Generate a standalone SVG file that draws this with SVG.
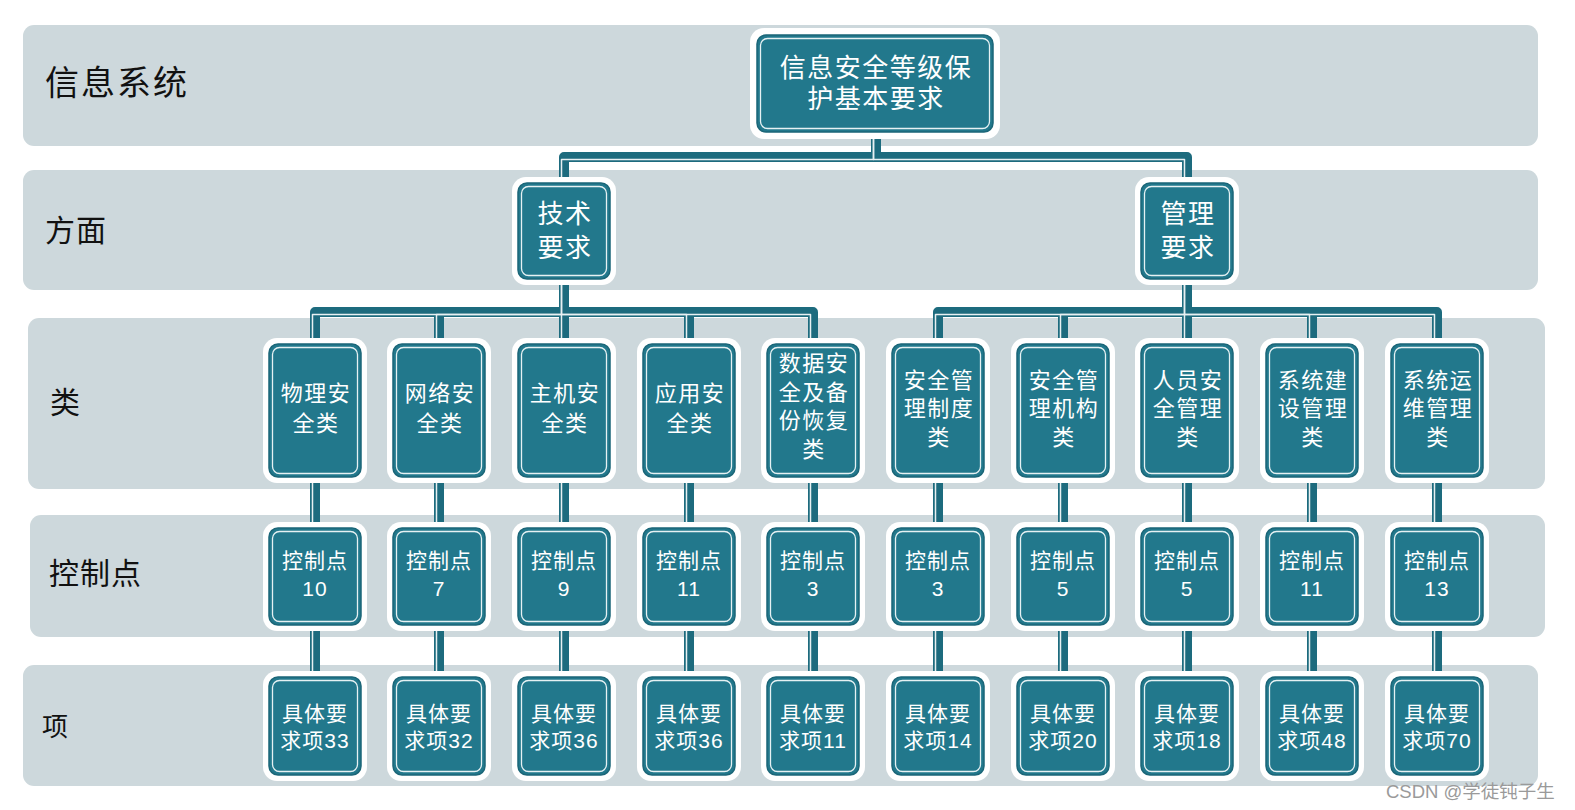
<svg xmlns="http://www.w3.org/2000/svg" width="1575" height="810" viewBox="0 0 1575 810">
<defs>
<style>
.band{fill:#CDD8DC}
.lbl{font-family:"Noto Sans CJK SC","Noto Sans",sans-serif;fill:#111}
.halo{fill:#fff}
.box{fill:#22788C;stroke:#1B6678;stroke-width:1.5}
.inner{fill:none;stroke:#E6F1F3;stroke-width:1.3}
.t{font-family:"Liberation Sans","Noto Sans CJK SC",sans-serif;fill:#fff;text-anchor:middle}
.big{font-size:26px;letter-spacing:1.5px}
.mid{font-size:22px;letter-spacing:1.5px}
.sm{font-size:21px;letter-spacing:1px}
.cd{fill:none;stroke:#1D6B7E;stroke-width:10;stroke-linejoin:round}
.cw{fill:none;stroke:#fff;stroke-width:1.5;stroke-linejoin:round;opacity:0.9}
</style>
</defs>
<rect width="1575" height="810" fill="#fff"/>
<g id="bands">
<rect class="band" x="23" y="25" width="1515" height="121" rx="11"/>
<rect class="band" x="23" y="170" width="1515" height="120" rx="11"/>
<rect class="band" x="28" y="318" width="1517" height="171" rx="11"/>
<rect class="band" x="30" y="515" width="1515" height="122" rx="11"/>
<rect class="band" x="23" y="665" width="1515" height="121" rx="11"/>
<text class="lbl" x="45" y="95" font-size="34" letter-spacing="2">信息系统</text>
<text class="lbl" x="45" y="241" font-size="30" letter-spacing="1">方面</text>
<text class="lbl" x="50" y="413" font-size="30">类</text>
<text class="lbl" x="49" y="584" font-size="30" letter-spacing="1">控制点</text>
<text class="lbl" x="42" y="736" font-size="26">项</text>
</g>
<g id="connectors">
<g class="cd">
<path d="M876,130 V157 H564 V190"/>
<path d="M876,130 V157 H1187 V190"/>
<path d="M564,280 V312 H315 V350"/>
<path d="M564,280 V312 H439 V350"/>
<path d="M564,280 V350"/>
<path d="M564,280 V312 H689 V350"/>
<path d="M564,280 V312 H813 V350"/>
<path d="M1187,280 V312 H938 V350"/>
<path d="M1187,280 V312 H1063 V350"/>
<path d="M1187,280 V350"/>
<path d="M1187,280 V312 H1312 V350"/>
<path d="M1187,280 V312 H1437 V350"/>
<path d="M315,470 V535 M439,470 V535 M564,470 V535 M689,470 V535 M813,470 V535 M938,470 V535 M1063,470 V535 M1187,470 V535 M1312,470 V535 M1437,470 V535"/>
<path d="M315,620 V685 M439,620 V685 M564,620 V685 M689,620 V685 M813,620 V685 M938,620 V685 M1063,620 V685 M1187,620 V685 M1312,620 V685 M1437,620 V685"/>
</g>
<g class="cw" transform="translate(-2.5,2.5)">
<path d="M876,130 V157 H564 V190"/>
<path d="M876,130 V157 H1187 V190"/>
<path d="M564,280 V312 H315 V350"/>
<path d="M564,312 H439 V350"/>
<path d="M564,280 V350"/>
<path d="M564,312 H689 V350"/>
<path d="M564,312 H813 V350"/>
<path d="M1187,280 V312 H938 V350"/>
<path d="M1187,312 H1063 V350"/>
<path d="M1187,280 V350"/>
<path d="M1187,312 H1312 V350"/>
<path d="M1187,312 H1437 V350"/>
<path d="M315,470 V535 M439,470 V535 M564,470 V535 M689,470 V535 M813,470 V535 M938,470 V535 M1063,470 V535 M1187,470 V535 M1312,470 V535 M1437,470 V535"/>
<path d="M315,620 V685 M439,620 V685 M564,620 V685 M689,620 V685 M813,620 V685 M938,620 V685 M1063,620 V685 M1187,620 V685 M1312,620 V685 M1437,620 V685"/>
</g>
</g>
<g id="root">
<rect class="halo" x="750" y="28" width="250" height="111" rx="14"/>
<rect class="box" x="757" y="35" width="236" height="97" rx="9"/>
<rect class="inner" x="760.5" y="38.5" width="229" height="90" rx="7"/>
<text class="t big"><tspan x="876" y="77">信息安全等级保</tspan><tspan x="876" y="108">护基本要求</tspan></text>
</g>
<g id="tech">
<rect class="halo" x="512" y="177" width="104" height="108" rx="14"/>
<rect class="box" x="518" y="183" width="92" height="96" rx="9"/>
<rect class="inner" x="521.5" y="186.5" width="85" height="89" rx="7"/>
<text class="t big"><tspan x="565" y="223">技术</tspan><tspan x="565" y="257">要求</tspan></text>
</g>
<g id="mgmt">
<rect class="halo" x="1135" y="177" width="104" height="108" rx="14"/>
<rect class="box" x="1141" y="183" width="92" height="96" rx="9"/>
<rect class="inner" x="1144.5" y="186.5" width="85" height="89" rx="7"/>
<text class="t big"><tspan x="1188" y="223">管理</tspan><tspan x="1188" y="257">要求</tspan></text>
</g>
<g id="class1"><rect class="halo" x="263" y="338" width="104" height="145" rx="14"/><rect class="box" x="269" y="344" width="92" height="133" rx="9"/><rect class="inner" x="272.5" y="347.5" width="85" height="126" rx="7"/><text class="t mid"><tspan x="316" y="401">物理安</tspan><tspan x="316" y="431">全类</tspan></text></g>
<g id="class2"><rect class="halo" x="387" y="338" width="104" height="145" rx="14"/><rect class="box" x="393" y="344" width="92" height="133" rx="9"/><rect class="inner" x="396.5" y="347.5" width="85" height="126" rx="7"/><text class="t mid"><tspan x="440" y="401">网络安</tspan><tspan x="440" y="431">全类</tspan></text></g>
<g id="class3"><rect class="halo" x="512" y="338" width="104" height="145" rx="14"/><rect class="box" x="518" y="344" width="92" height="133" rx="9"/><rect class="inner" x="521.5" y="347.5" width="85" height="126" rx="7"/><text class="t mid"><tspan x="565" y="401">主机安</tspan><tspan x="565" y="431">全类</tspan></text></g>
<g id="class4"><rect class="halo" x="637" y="338" width="104" height="145" rx="14"/><rect class="box" x="643" y="344" width="92" height="133" rx="9"/><rect class="inner" x="646.5" y="347.5" width="85" height="126" rx="7"/><text class="t mid"><tspan x="690" y="401">应用安</tspan><tspan x="690" y="431">全类</tspan></text></g>
<g id="class5"><rect class="halo" x="761" y="338" width="104" height="145" rx="14"/><rect class="box" x="767" y="344" width="92" height="133" rx="9"/><rect class="inner" x="770.5" y="347.5" width="85" height="126" rx="7"/><text class="t mid"><tspan x="814" y="371">数据安</tspan><tspan x="814" y="400">全及备</tspan><tspan x="814" y="428">份恢复</tspan><tspan x="814" y="457">类</tspan></text></g>
<g id="class6"><rect class="halo" x="886" y="338" width="104" height="145" rx="14"/><rect class="box" x="892" y="344" width="92" height="133" rx="9"/><rect class="inner" x="895.5" y="347.5" width="85" height="126" rx="7"/><text class="t mid"><tspan x="939" y="388">安全管</tspan><tspan x="939" y="416">理制度</tspan><tspan x="939" y="445">类</tspan></text></g>
<g id="class7"><rect class="halo" x="1011" y="338" width="104" height="145" rx="14"/><rect class="box" x="1017" y="344" width="92" height="133" rx="9"/><rect class="inner" x="1020.5" y="347.5" width="85" height="126" rx="7"/><text class="t mid"><tspan x="1064" y="388">安全管</tspan><tspan x="1064" y="416">理机构</tspan><tspan x="1064" y="445">类</tspan></text></g>
<g id="class8"><rect class="halo" x="1135" y="338" width="104" height="145" rx="14"/><rect class="box" x="1141" y="344" width="92" height="133" rx="9"/><rect class="inner" x="1144.5" y="347.5" width="85" height="126" rx="7"/><text class="t mid"><tspan x="1188" y="388">人员安</tspan><tspan x="1188" y="416">全管理</tspan><tspan x="1188" y="445">类</tspan></text></g>
<g id="class9"><rect class="halo" x="1260" y="338" width="104" height="145" rx="14"/><rect class="box" x="1266" y="344" width="92" height="133" rx="9"/><rect class="inner" x="1269.5" y="347.5" width="85" height="126" rx="7"/><text class="t mid"><tspan x="1313" y="388">系统建</tspan><tspan x="1313" y="416">设管理</tspan><tspan x="1313" y="445">类</tspan></text></g>
<g id="class10"><rect class="halo" x="1385" y="338" width="104" height="145" rx="14"/><rect class="box" x="1391" y="344" width="92" height="133" rx="9"/><rect class="inner" x="1394.5" y="347.5" width="85" height="126" rx="7"/><text class="t mid"><tspan x="1438" y="388">系统运</tspan><tspan x="1438" y="416">维管理</tspan><tspan x="1438" y="445">类</tspan></text></g>
<g id="ctrl1"><rect class="halo" x="263" y="522" width="104" height="109" rx="14"/><rect class="box" x="269" y="528" width="92" height="97" rx="9"/><rect class="inner" x="272.5" y="531.5" width="85" height="90" rx="7"/><text class="t sm"><tspan x="315" y="568">控制点</tspan><tspan x="315" y="596">10</tspan></text></g>
<g id="ctrl2"><rect class="halo" x="387" y="522" width="104" height="109" rx="14"/><rect class="box" x="393" y="528" width="92" height="97" rx="9"/><rect class="inner" x="396.5" y="531.5" width="85" height="90" rx="7"/><text class="t sm"><tspan x="439" y="568">控制点</tspan><tspan x="439" y="596">7</tspan></text></g>
<g id="ctrl3"><rect class="halo" x="512" y="522" width="104" height="109" rx="14"/><rect class="box" x="518" y="528" width="92" height="97" rx="9"/><rect class="inner" x="521.5" y="531.5" width="85" height="90" rx="7"/><text class="t sm"><tspan x="564" y="568">控制点</tspan><tspan x="564" y="596">9</tspan></text></g>
<g id="ctrl4"><rect class="halo" x="637" y="522" width="104" height="109" rx="14"/><rect class="box" x="643" y="528" width="92" height="97" rx="9"/><rect class="inner" x="646.5" y="531.5" width="85" height="90" rx="7"/><text class="t sm"><tspan x="689" y="568">控制点</tspan><tspan x="689" y="596">11</tspan></text></g>
<g id="ctrl5"><rect class="halo" x="761" y="522" width="104" height="109" rx="14"/><rect class="box" x="767" y="528" width="92" height="97" rx="9"/><rect class="inner" x="770.5" y="531.5" width="85" height="90" rx="7"/><text class="t sm"><tspan x="813" y="568">控制点</tspan><tspan x="813" y="596">3</tspan></text></g>
<g id="ctrl6"><rect class="halo" x="886" y="522" width="104" height="109" rx="14"/><rect class="box" x="892" y="528" width="92" height="97" rx="9"/><rect class="inner" x="895.5" y="531.5" width="85" height="90" rx="7"/><text class="t sm"><tspan x="938" y="568">控制点</tspan><tspan x="938" y="596">3</tspan></text></g>
<g id="ctrl7"><rect class="halo" x="1011" y="522" width="104" height="109" rx="14"/><rect class="box" x="1017" y="528" width="92" height="97" rx="9"/><rect class="inner" x="1020.5" y="531.5" width="85" height="90" rx="7"/><text class="t sm"><tspan x="1063" y="568">控制点</tspan><tspan x="1063" y="596">5</tspan></text></g>
<g id="ctrl8"><rect class="halo" x="1135" y="522" width="104" height="109" rx="14"/><rect class="box" x="1141" y="528" width="92" height="97" rx="9"/><rect class="inner" x="1144.5" y="531.5" width="85" height="90" rx="7"/><text class="t sm"><tspan x="1187" y="568">控制点</tspan><tspan x="1187" y="596">5</tspan></text></g>
<g id="ctrl9"><rect class="halo" x="1260" y="522" width="104" height="109" rx="14"/><rect class="box" x="1266" y="528" width="92" height="97" rx="9"/><rect class="inner" x="1269.5" y="531.5" width="85" height="90" rx="7"/><text class="t sm"><tspan x="1312" y="568">控制点</tspan><tspan x="1312" y="596">11</tspan></text></g>
<g id="ctrl10"><rect class="halo" x="1385" y="522" width="104" height="109" rx="14"/><rect class="box" x="1391" y="528" width="92" height="97" rx="9"/><rect class="inner" x="1394.5" y="531.5" width="85" height="90" rx="7"/><text class="t sm"><tspan x="1437" y="568">控制点</tspan><tspan x="1437" y="596">13</tspan></text></g>
<g id="item1"><rect class="halo" x="263" y="671" width="104" height="110" rx="14"/><rect class="box" x="269" y="677" width="92" height="98" rx="9"/><rect class="inner" x="272.5" y="680.5" width="85" height="91" rx="7"/><text class="t sm"><tspan x="315" y="721">具体要</tspan><tspan x="315" y="748">求项33</tspan></text></g>
<g id="item2"><rect class="halo" x="387" y="671" width="104" height="110" rx="14"/><rect class="box" x="393" y="677" width="92" height="98" rx="9"/><rect class="inner" x="396.5" y="680.5" width="85" height="91" rx="7"/><text class="t sm"><tspan x="439" y="721">具体要</tspan><tspan x="439" y="748">求项32</tspan></text></g>
<g id="item3"><rect class="halo" x="512" y="671" width="104" height="110" rx="14"/><rect class="box" x="518" y="677" width="92" height="98" rx="9"/><rect class="inner" x="521.5" y="680.5" width="85" height="91" rx="7"/><text class="t sm"><tspan x="564" y="721">具体要</tspan><tspan x="564" y="748">求项36</tspan></text></g>
<g id="item4"><rect class="halo" x="637" y="671" width="104" height="110" rx="14"/><rect class="box" x="643" y="677" width="92" height="98" rx="9"/><rect class="inner" x="646.5" y="680.5" width="85" height="91" rx="7"/><text class="t sm"><tspan x="689" y="721">具体要</tspan><tspan x="689" y="748">求项36</tspan></text></g>
<g id="item5"><rect class="halo" x="761" y="671" width="104" height="110" rx="14"/><rect class="box" x="767" y="677" width="92" height="98" rx="9"/><rect class="inner" x="770.5" y="680.5" width="85" height="91" rx="7"/><text class="t sm"><tspan x="813" y="721">具体要</tspan><tspan x="813" y="748">求项11</tspan></text></g>
<g id="item6"><rect class="halo" x="886" y="671" width="104" height="110" rx="14"/><rect class="box" x="892" y="677" width="92" height="98" rx="9"/><rect class="inner" x="895.5" y="680.5" width="85" height="91" rx="7"/><text class="t sm"><tspan x="938" y="721">具体要</tspan><tspan x="938" y="748">求项14</tspan></text></g>
<g id="item7"><rect class="halo" x="1011" y="671" width="104" height="110" rx="14"/><rect class="box" x="1017" y="677" width="92" height="98" rx="9"/><rect class="inner" x="1020.5" y="680.5" width="85" height="91" rx="7"/><text class="t sm"><tspan x="1063" y="721">具体要</tspan><tspan x="1063" y="748">求项20</tspan></text></g>
<g id="item8"><rect class="halo" x="1135" y="671" width="104" height="110" rx="14"/><rect class="box" x="1141" y="677" width="92" height="98" rx="9"/><rect class="inner" x="1144.5" y="680.5" width="85" height="91" rx="7"/><text class="t sm"><tspan x="1187" y="721">具体要</tspan><tspan x="1187" y="748">求项18</tspan></text></g>
<g id="item9"><rect class="halo" x="1260" y="671" width="104" height="110" rx="14"/><rect class="box" x="1266" y="677" width="92" height="98" rx="9"/><rect class="inner" x="1269.5" y="680.5" width="85" height="91" rx="7"/><text class="t sm"><tspan x="1312" y="721">具体要</tspan><tspan x="1312" y="748">求项48</tspan></text></g>
<g id="item10"><rect class="halo" x="1385" y="671" width="104" height="110" rx="14"/><rect class="box" x="1391" y="677" width="92" height="98" rx="9"/><rect class="inner" x="1394.5" y="680.5" width="85" height="91" rx="7"/><text class="t sm"><tspan x="1437" y="721">具体要</tspan><tspan x="1437" y="748">求项70</tspan></text></g>
<text x="1386" y="798" font-family="Liberation Sans,'Noto Sans CJK SC',sans-serif" font-size="18.5" fill="#9a9a9a">CSDN @学徒钝子生</text>
</svg>
